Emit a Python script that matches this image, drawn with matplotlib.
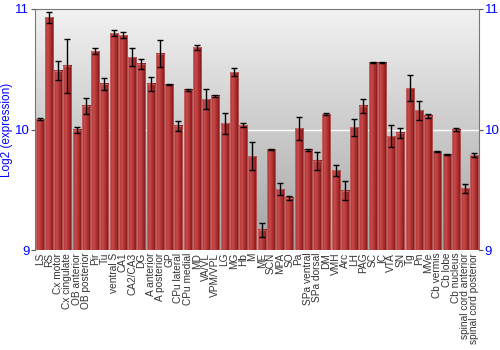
import matplotlib
matplotlib.use('Agg')
import matplotlib.pyplot as plt
import numpy as np
from matplotlib.colors import LinearSegmentedColormap

plt.rcParams['font.family'] = ['Liberation Sans', 'DejaVu Sans']

# 脑区名称
regions = ['LS', 'RS', 'Cx motor', 'Cx cingulate', 'OB anterior', 'OB posterior', 'Pir', 'Tu',
           'ventral S', 'CA1', 'CA2/CA3', 'DG', 'A anterior', 'A posterior', 'GP', 'CPu lateral',
           'CPu medial', 'MD', 'VA/VL', 'VPM/VPL', 'LG', 'MG', 'Hb', 'M', 'ME', 'SCN', 'MPA', 'SO',
           'Pa', 'SPa ventral', 'SPa dorsal', 'DM', 'VMH', 'Arc', 'LH', 'PAG', 'SC', 'IC', 'VTA',
           'SN', 'Tg', 'Pn', 'MVe', 'Cb vermis', 'Cb lobe', 'Cb nucleus', 'spinal cord anterior',
           'spinal cord posterior']
# 表达量 (log2)
expression = [10.087, 10.93, 10.488, 10.527, 9.996, 10.195, 10.649, 10.378,
              10.80, 10.784, 10.599, 10.546, 10.378, 10.63, 10.372, 10.03,
              10.328, 10.682, 10.253, 10.28, 10.05, 10.477, 10.037, 9.78, 9.166, 9.836, 9.506, 9.432,
              10.01, 9.83, 9.739, 10.126, 9.66, 9.49, 10.018, 10.195, 10.555, 10.555, 9.946,
              9.971, 10.342, 10.159, 10.115, 9.82, 9.79, 10.0, 9.512,
              9.786]
# 误差
errors = [0.01, 0.045, 0.08, 0.22, 0.025, 0.066, 0.025, 0.05,
          0.028, 0.024, 0.076, 0.04, 0.06, 0.11, 0.004, 0.04,
          0.006, 0.022, 0.08, 0.008, 0.09, 0.03, 0.02, 0.12, 0.058, 0.004, 0.05, 0.02,
          0.094, 0.006, 0.072, 0.008, 0.044, 0.079, 0.073, 0.06, 0.004, 0.004, 0.094,
          0.04, 0.108, 0.079, 0.017, 0.004, 0.004, 0.01, 0.035,
          0.018]

fig = plt.figure(figsize=(5, 3.5), dpi=100)
ax = fig.add_axes([0.07, 0.2857, 0.888, 0.6886])

ymin, ymax = 9, 11
n = len(regions)
xpos = np.arange(n)
width = 0.88

# 背景渐变
bg = LinearSegmentedColormap.from_list('bg', ['#a4a4a4', '#f2f2f2'])
ax.imshow(np.linspace(0, 1, 256).reshape(-1, 1), cmap=bg, aspect='auto', origin='lower',
          extent=[-0.5, n - 0.5, ymin, ymax], zorder=0)
ax.axhline(10, color='white', lw=1, zorder=1)

# 柱子渐变
barcm = LinearSegmentedColormap.from_list('bar', [(0, '#a83232'), (0.3, '#c94b4b'), (0.75, '#a12525'), (1, '#761414')])
grad = np.linspace(0, 1, 64).reshape(1, -1)
for x, v in zip(xpos, expression):
    ax.imshow(grad, cmap=barcm, aspect='auto', extent=[x - width / 2, x + width / 2, ymin, v], zorder=2)
    ax.add_patch(plt.Rectangle((x - width / 2, ymin), width, v - ymin, fill=False,
                               edgecolor='#d89090', lw=0.6, alpha=0.6, zorder=3))

ax.errorbar(xpos, expression, yerr=errors, fmt='none', ecolor='black', elinewidth=1,
            capsize=2, capthick=1, zorder=4)

ax.set_xlim(-0.5, n - 0.5)
ax.set_ylim(ymin, ymax)
ax.set_yticks([9, 10, 11])
ax.tick_params(axis='y', colors='#555555', labelcolor='blue', labelsize=9.5, length=3,
               right=True, labelright=True, pad=1)
ax.set_xticks(xpos)
ax.set_xticklabels(regions, rotation=90, fontsize=7.3, color='#333333')
ax.tick_params(axis='x', length=0, pad=2)
for s in ['left', 'right', 'top']:
    ax.spines[s].set_color('#777777')
ax.spines['bottom'].set_visible(False)
ax.set_ylabel('Log2 (expression)', color='blue', fontsize=8.5)
ax.yaxis.set_label_coords(-0.05, 0.5)

fig.savefig('out.png', dpi=100)
